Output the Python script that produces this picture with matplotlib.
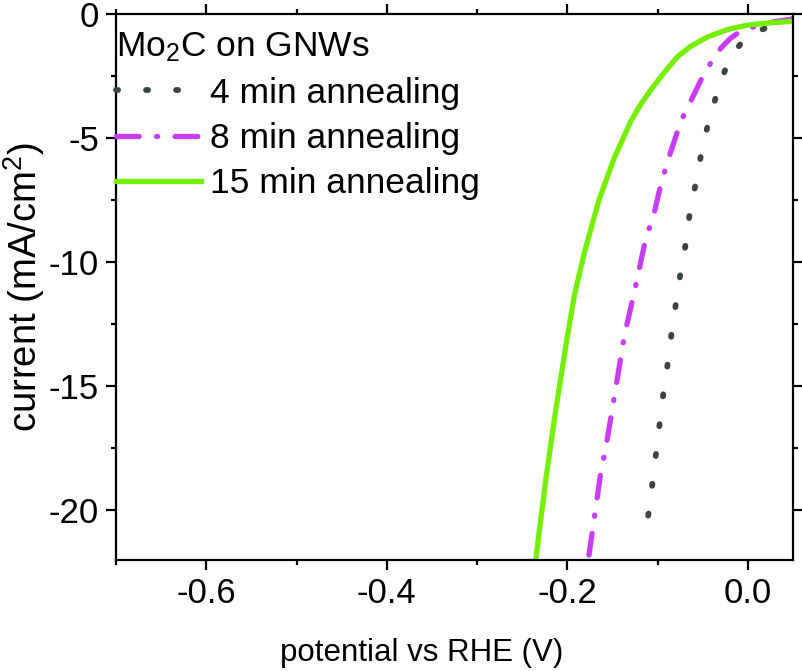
import numpy as np
import matplotlib.pyplot as plt
from matplotlib.ticker import MultipleLocator

plt.rcParams['font.family'] = ['Liberation Sans', 'DejaVu Sans']
plt.rcParams['mathtext.fontset'] = 'custom'
plt.rcParams['mathtext.rm'] = 'Liberation Sans'
plt.rcParams['mathtext.it'] = 'Liberation Sans:italic'
plt.rcParams['axes.unicode_minus'] = False

# potential (V vs RHE) and current density (mA/cm2)
v_4min = [0.05, 0.024, 0.01, -0.003, -0.012, -0.023, -0.034, -0.043, -0.051, -0.057, -0.064,
          -0.068, -0.074, -0.079, -0.084, -0.088, -0.093, -0.097, -0.101, -0.105, -0.109,
          -0.114, -0.116]
j_4min = [-0.2, -0.51, -0.7, -0.94, -1.4, -2.03, -3.17, -4.27, -5.5, -6.7, -7.9,
          -9.1, -10.3, -11.5, -12.7, -13.9, -15.1, -16.3, -17.5, -18.7, -19.9,
          -21.0, -21.3]

v_8min = [0.05, 0.03, 0.009, -0.009, -0.02, -0.030, -0.041, -0.052, -0.065, -0.074,
          -0.085, -0.096, -0.103, -0.114, -0.124, -0.137, -0.146, -0.157, -0.163, -0.176]
j_8min = [-0.2, -0.3, -0.48, -0.71, -1.0, -1.38, -1.96, -2.66, -3.64, -4.3,
          -5.5, -6.8, -7.9, -9.2, -10.9, -13.0, -15.0, -17.4, -18.5, -21.8]

v_15min = [0.052, 0.026, 0.0, -0.022, -0.044, -0.063, -0.078, -0.092, -0.105, -0.118,
           -0.129, -0.148, -0.165, -0.181, -0.192, -0.2, -0.213, -0.224, -0.235]
j_15min = [-0.28, -0.35, -0.44, -0.62, -0.91, -1.29, -1.72, -2.33, -2.93, -3.6,
           -4.27, -5.8, -7.5, -9.6, -11.3, -13.0, -16.0, -18.8, -22.0]

fig = plt.figure(figsize=(8.03, 6.71), dpi=100)
ax = fig.add_axes([0.1445, 0.1654, 0.843, 0.8136])

ax.plot(v_4min, j_4min, color='#3c4446', lw=4.2, linestyle=(0, (0.35, 4.8)),
        dash_capstyle='round', label='4 min annealing')
ax.plot(v_8min, j_8min, color='#c83cf5', lw=3.8, linestyle=(0, (4.3, 3.3, 0.2, 3.3)),
        dash_capstyle='round', label='8 min annealing')
ax.plot(v_15min, j_15min, color='#76ee00', lw=3.8, label='15 min annealing')

ax.set_xlim(-0.7, 0.05)
ax.set_ylim(-22, 0)
ax.xaxis.set_major_locator(MultipleLocator(0.2))
ax.xaxis.set_minor_locator(MultipleLocator(0.1))
ax.yaxis.set_major_locator(MultipleLocator(5))
ax.yaxis.set_minor_locator(MultipleLocator(2.5))
ax.xaxis.set_major_formatter(plt.FuncFormatter(lambda v, p: '%.1f' % v))

ax.tick_params(which='both', direction='out', top=True, right=True, width=1.6,
               labelsize=25)
ax.tick_params(axis='x', pad=5)
ax.tick_params(axis='y', pad=5)
ax.tick_params(which='major', length=7.2)
ax.tick_params(which='minor', length=3.6)
for s in ax.spines.values():
    s.set_linewidth(1.6)

ax.set_xlabel('potential vs RHE (V)', fontsize=22.5)
ax.set_ylabel('current (mA/cm$^2$)', fontsize=27.5)
ax.xaxis.set_label_coords(0.452, -0.142)
ax.yaxis.set_label_coords(-0.102, 0.5)

leg = ax.legend(loc='upper left', bbox_to_anchor=(0.0, 0.97), frameon=False,
                title='Mo$_2$C on GNWs', fontsize=25.5, title_fontsize=25.5,
                alignment='left', handlelength=2.4, handletextpad=0.25,
                labelspacing=0.35, borderpad=0.0, borderaxespad=0.0)

fig.savefig('out.png', dpi=100)
